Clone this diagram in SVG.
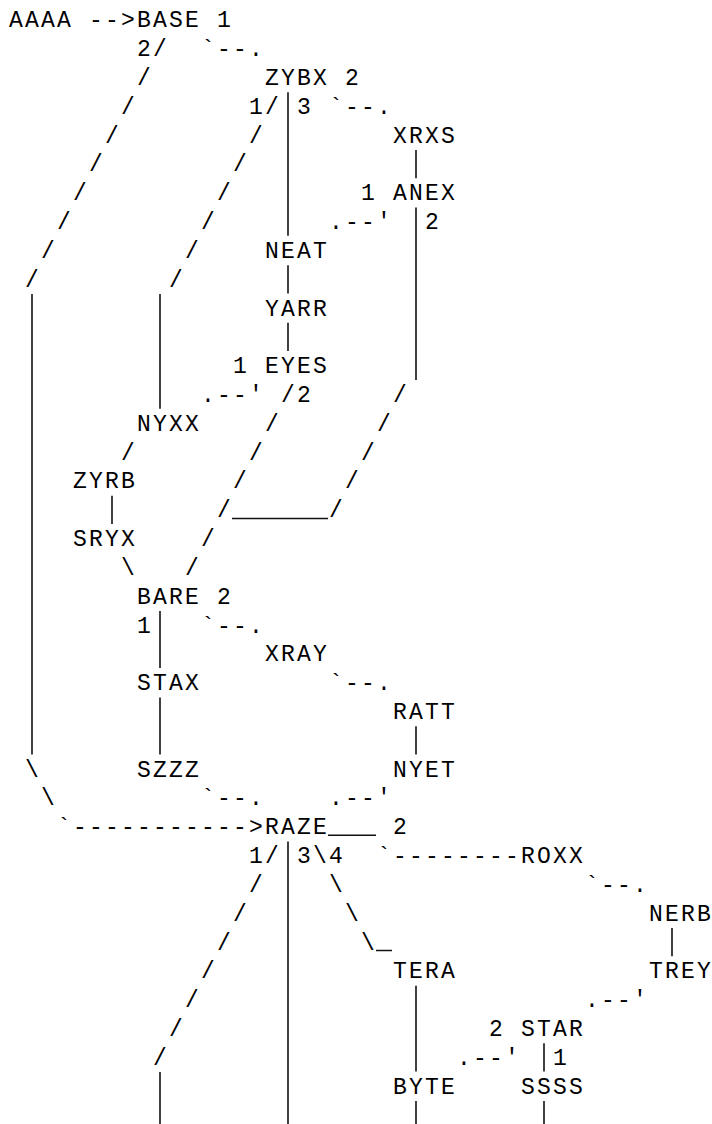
<svg xmlns="http://www.w3.org/2000/svg" width="712" height="1124" viewBox="0 0 712 1124">
<style>
text{font-family:"Liberation Mono","DejaVu Sans Mono",monospace;font-size:23px;letter-spacing:2.2px;fill:#000}
.bar{stroke:#111;stroke-width:1.6;fill:none}
.us{stroke:#111;stroke-width:1.5}
</style>
<rect width="712" height="1124" fill="#fff"/>
<g id="connectors">
<g id="bars">
<line class="bar" x1="288" y1="92.3" x2="288" y2="235.8"/>
<line class="bar" x1="416" y1="149.9" x2="416" y2="178.2"/>
<line class="bar" x1="416" y1="207.5" x2="416" y2="379.9"/>
<line class="bar" x1="288" y1="265.2" x2="288" y2="293.5"/>
<line class="bar" x1="288" y1="322.8" x2="288" y2="351.1"/>
<line class="bar" x1="32" y1="294" x2="32" y2="754.6"/>
<line class="bar" x1="160" y1="294" x2="160" y2="408.8"/>
<line class="bar" x1="112" y1="495.7" x2="112" y2="524"/>
<line class="bar" x1="160" y1="611" x2="160" y2="668.1"/>
<line class="bar" x1="160" y1="697.5" x2="160" y2="754.6"/>
<line class="bar" x1="416" y1="726.3" x2="416" y2="754.6"/>
<line class="bar" x1="288" y1="841.6" x2="288" y2="1124"/>
<line class="bar" x1="672" y1="928" x2="672" y2="956.3"/>
<line class="bar" x1="416" y1="985.7" x2="416" y2="1071.6"/>
<line class="bar" x1="544" y1="1043.3" x2="544" y2="1071.6"/>
<line class="bar" x1="160" y1="1072.1" x2="160" y2="1124"/>
<line class="bar" x1="416" y1="1101" x2="416" y2="1124"/>
<line class="bar" x1="544" y1="1101" x2="544" y2="1124"/>
<line class="us" x1="232" y1="518.5" x2="328" y2="518.5"/>
<line class="us" x1="328" y1="835.3" x2="376" y2="835.3"/>
<line class="us" x1="376" y1="950.5" x2="392" y2="950.5"/>
</g>
<g id="glyphs">
<text x="89.1" y="27.3">--&gt;</text>
<text x="153.1" y="56.1">/</text>
<text x="201.1" y="56.1">`--.</text>
<text x="137.1" y="84.9">/</text>
<text x="121.1" y="113.8">/</text>
<text x="265.1" y="113.8">/</text>
<text x="329.1" y="113.8">`--.</text>
<text x="105.1" y="142.6">/</text>
<text x="249.1" y="142.6">/</text>
<text x="89.1" y="171.4">/</text>
<text x="233.1" y="171.4">/</text>
<text x="73.1" y="200.2">/</text>
<text x="217.1" y="200.2">/</text>
<text x="57.1" y="229">/</text>
<text x="201.1" y="229">/</text>
<text x="329.1" y="229">.--'</text>
<text x="41.1" y="257.9">/</text>
<text x="185.1" y="257.9">/</text>
<text x="25.1" y="286.7">/</text>
<text x="169.1" y="286.7">/</text>
<text x="201.1" y="402">.--'</text>
<text x="281.1" y="402">/</text>
<text x="393.1" y="402">/</text>
<text x="265.1" y="430.8">/</text>
<text x="377.1" y="430.8">/</text>
<text x="121.1" y="459.6">/</text>
<text x="249.1" y="459.6">/</text>
<text x="361.1" y="459.6">/</text>
<text x="233.1" y="488.4">/</text>
<text x="345.1" y="488.4">/</text>
<text x="217.1" y="517.2">/</text>
<text x="329.1" y="517.2">/</text>
<text x="201.1" y="546.1">/</text>
<text x="121.1" y="574.9">\</text>
<text x="185.1" y="574.9">/</text>
<text x="201.1" y="632.5">`--.</text>
<text x="329.1" y="690.2">`--.</text>
<text x="25.1" y="776.6">\</text>
<text x="41.1" y="805.4">\</text>
<text x="201.1" y="805.4">`--.</text>
<text x="329.1" y="805.4">.--'</text>
<text x="57.1" y="834.3">`-----------&gt;</text>
<text x="265.1" y="863.1">/</text>
<text x="313.1" y="863.1">\</text>
<text x="377.1" y="863.1">`--------</text>
<text x="249.1" y="891.9">/</text>
<text x="329.1" y="891.9">\</text>
<text x="585.1" y="891.9">`--.</text>
<text x="233.1" y="920.7">/</text>
<text x="345.1" y="920.7">\</text>
<text x="217.1" y="949.5">/</text>
<text x="361.1" y="949.5">\</text>
<text x="201.1" y="978.4">/</text>
<text x="185.1" y="1007.2">/</text>
<text x="585.1" y="1007.2">.--'</text>
<text x="169.1" y="1036">/</text>
<text x="153.1" y="1064.8">/</text>
<text x="457.1" y="1064.8">.--'</text>
</g>
</g>
<g id="edge-labels">
<text x="217.1" y="27.3">1</text>
<text x="137.1" y="56.1">2</text>
<text x="345.1" y="84.9">2</text>
<text x="249.1" y="113.8">1</text>
<text x="297.1" y="113.8">3</text>
<text x="361.1" y="200.2">1</text>
<text x="425.1" y="229">2</text>
<text x="233.1" y="373.1">1</text>
<text x="297.1" y="402">2</text>
<text x="217.1" y="603.7">2</text>
<text x="137.1" y="632.5">1</text>
<text x="393.1" y="834.3">2</text>
<text x="249.1" y="863.1">1</text>
<text x="297.1" y="863.1">3</text>
<text x="329.1" y="863.1">4</text>
<text x="489.1" y="1036">2</text>
<text x="553.1" y="1064.8">1</text>
</g>
<g id="node-AAAA"><text x="9.1" y="27.3">AAAA</text></g>
<g id="node-BASE"><text x="137.1" y="27.3">BASE</text></g>
<g id="node-ZYBX"><text x="265.1" y="84.9">ZYBX</text></g>
<g id="node-XRXS"><text x="393.1" y="142.6">XRXS</text></g>
<g id="node-ANEX"><text x="393.1" y="200.2">ANEX</text></g>
<g id="node-NEAT"><text x="265.1" y="257.9">NEAT</text></g>
<g id="node-YARR"><text x="265.1" y="315.5">YARR</text></g>
<g id="node-EYES"><text x="265.1" y="373.1">EYES</text></g>
<g id="node-NYXX"><text x="137.1" y="430.8">NYXX</text></g>
<g id="node-ZYRB"><text x="73.1" y="488.4">ZYRB</text></g>
<g id="node-SRYX"><text x="73.1" y="546.1">SRYX</text></g>
<g id="node-BARE"><text x="137.1" y="603.7">BARE</text></g>
<g id="node-XRAY"><text x="265.1" y="661.3">XRAY</text></g>
<g id="node-STAX"><text x="137.1" y="690.2">STAX</text></g>
<g id="node-RATT"><text x="393.1" y="719">RATT</text></g>
<g id="node-SZZZ"><text x="137.1" y="776.6">SZZZ</text></g>
<g id="node-NYET"><text x="393.1" y="776.6">NYET</text></g>
<g id="node-RAZE"><text x="265.1" y="834.3">RAZE</text></g>
<g id="node-ROXX"><text x="521.1" y="863.1">ROXX</text></g>
<g id="node-NERB"><text x="649.1" y="920.7">NERB</text></g>
<g id="node-TERA"><text x="393.1" y="978.4">TERA</text></g>
<g id="node-TREY"><text x="649.1" y="978.4">TREY</text></g>
<g id="node-STAR"><text x="521.1" y="1036">STAR</text></g>
<g id="node-BYTE"><text x="393.1" y="1093.6">BYTE</text></g>
<g id="node-SSSS"><text x="521.1" y="1093.6">SSSS</text></g>
</svg>
